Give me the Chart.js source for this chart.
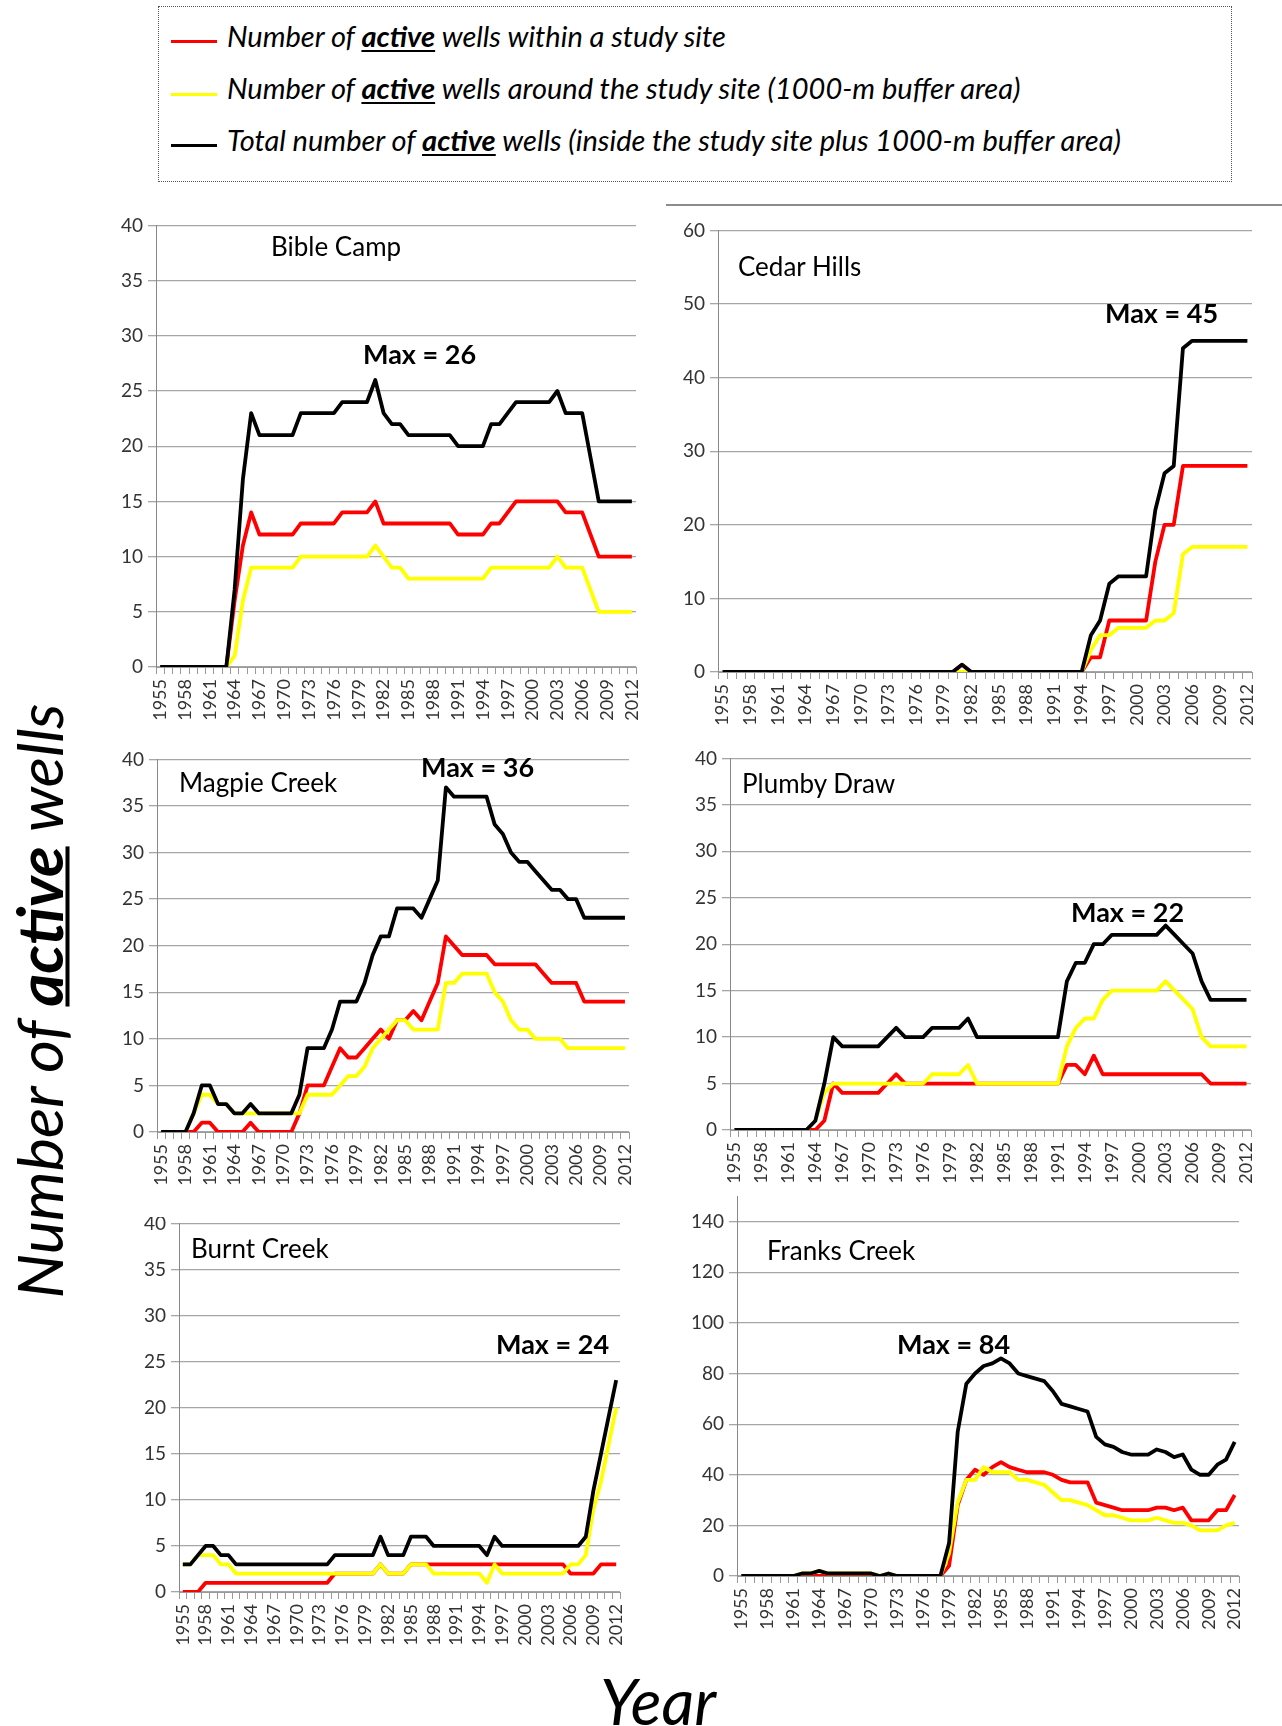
<!DOCTYPE html>
<html>
<head>
<meta charset="utf-8">
<script src="https://cdn.jsdelivr.net/npm/chart.js@4.4.1/dist/chart.umd.min.js"></script>
<style>
body { margin:0; width:1282px; height:1726px; position:relative; background:#fff; overflow:hidden; font-family:Lato, sans-serif; color:#000; }
.abs { position:absolute; white-space:nowrap; }
.lgtxt { font-style:italic; font-size:29px; line-height:34px; }
.lgtxt u, .ytitle u { text-decoration-thickness:2px; text-underline-offset:3px; }
.ytitle u { text-decoration-thickness:4px; }
.sw { position:absolute; width:46px; height:3px; }
.ttl { font-size:26px; line-height:30px; }
.mx { font-size:27px; line-height:30px; font-weight:bold; }
</style>
</head>
<body>

<div class="abs" style="left:158px;top:6px;width:1074px;height:176px;border:1px dotted #555;box-sizing:border-box;"></div>
<div class="sw" style="left:171px;top:40px;background:#ff0000;"></div>
<div class="abs lgtxt" style="left:227px;top:19px;">Number of <b><u>active</u></b> wells within a study site</div>
<div class="sw" style="left:171px;top:93px;background:#ffff00;"></div>
<div class="abs lgtxt" style="left:227px;top:71px;">Number of <b><u>active</u></b> wells around the study site (1000-m buffer area)</div>
<div class="sw" style="left:171px;top:144px;background:#000000;"></div>
<div class="abs lgtxt" style="left:227px;top:123px;">Total number of <b><u>active</u></b> wells (inside the study site plus 1000-m buffer area)</div>

<div class="abs" style="left:666px;top:204px;width:616px;height:2px;background:#8c8c8c;"></div>

<div class="abs ytitle" style="left:38px;top:1001px;font-size:63px;font-style:italic;transform:translate(-50%,-50%) rotate(-90deg);">Number of <b><u>active</u></b> wells</div>
<div class="abs" style="left:658px;top:1700px;font-size:64px;font-style:italic;transform:translate(-50%,-50%);">Year</div>

<div id="charts"></div>

<div class="abs ttl" style="left:271px;top:231px;">Bible Camp</div>
<div class="abs mx" style="left:363px;top:339px;">Max = 26</div>
<div class="abs ttl" style="left:738px;top:251px;">Cedar Hills</div>
<div class="abs mx" style="left:1105px;top:298px;">Max = 45</div>
<div class="abs ttl" style="left:179px;top:767px;">Magpie Creek</div>
<div class="abs mx" style="left:421px;top:752px;">Max = 36</div>
<div class="abs ttl" style="left:742px;top:768px;">Plumby Draw</div>
<div class="abs mx" style="left:1071px;top:897px;">Max = 22</div>
<div class="abs ttl" style="left:191px;top:1233px;">Burnt Creek</div>
<div class="abs mx" style="left:496px;top:1329px;">Max = 24</div>
<div class="abs ttl" style="left:767px;top:1235px;">Franks Creek</div>
<div class="abs mx" style="left:897px;top:1329px;">Max = 84</div>

<script>
var years = [1955,1956,1957,1958,1959,1960,1961,1962,1963,1964,1965,1966,1967,1968,1969,1970,
  1971,1972,1973,1974,1975,1976,1977,1978,1979,1980,1981,1982,1983,1984,1985,1986,1987,1988,
  1989,1990,1991,1992,1993,1994,1995,1996,1997,1998,1999,2000,2001,2002,2003,2004,2005,2006,
  2007,2008,2009,2010,2011,2012];

// Bible Camp
var bibleBlack  = [0,0,0,0,0,0,0,0,0,7,17,23,21,21,21,21,21,23,23,23,23,23,24,24,24,24,26,23,22,22,21,21,21,21,21,21,20,20,20,20,22,22,23,24,24,24,24,24,25,23,23,23,19,15,15,15,15,15];
var bibleYellow = [0,0,0,0,0,0,0,0,0,1,6,9,9,9,9,9,9,10,10,10,10,10,10,10,10,10,11,10,9,9,8,8,8,8,8,8,8,8,8,8,9,9,9,9,9,9,9,9,10,9,9,9,7,5,5,5,5,5];
var bibleRed    = [0,0,0,0,0,0,0,0,0,6,11,14,12,12,12,12,12,13,13,13,13,13,14,14,14,14,15,13,13,13,13,13,13,13,13,13,12,12,12,12,13,13,14,15,15,15,15,15,15,14,14,14,12,10,10,10,10,10];

// Cedar Hills
var cedarBlack  = [0,0,0,0,0,0,0,0,0,0,0,0,0,0,0,0,0,0,0,0,0,0,0,0,0,0,1,0,0,0,0,0,0,0,0,0,0,0,0,0,5,7,12,13,13,13,13,22,27,28,44,45,45,45,45,45,45,45];
var cedarYellow = [0,0,0,0,0,0,0,0,0,0,0,0,0,0,0,0,0,0,0,0,0,0,0,0,0,0,0,0,0,0,0,0,0,0,0,0,0,0,0,0,3,5,5,6,6,6,6,7,7,8,16,17,17,17,17,17,17,17];
var cedarRed    = [0,0,0,0,0,0,0,0,0,0,0,0,0,0,0,0,0,0,0,0,0,0,0,0,0,0,1,0,0,0,0,0,0,0,0,0,0,0,0,0,2,2,7,7,7,7,7,15,20,20,28,28,28,28,28,28,28,28];

// Magpie Creek
var magpieBlack  = [0,0,0,0,2,5,5,3,3,2,2,3,2,2,2,2,2,4,9,9,9,11,14,14,14,16,19,21,21,24,24,24,23,25,27,37,36,36,36,36,36,33,32,30,29,29,28,27,26,26,25,25,23,23,23,23,23,23];
var magpieYellow = [0,0,0,0,2,4,4,3,3,2,2,2,2,2,2,2,2,2,4,4,4,4,5,6,6,7,9,10,11,12,12,11,11,11,11,16,16,17,17,17,17,15,14,12,11,11,10,10,10,10,9,9,9,9,9,9,9,9];
var magpieRed    = [0,0,0,0,0,1,1,0,0,0,0,1,0,0,0,0,0,2,5,5,5,7,9,8,8,9,10,11,10,12,12,13,12,14,16,21,20,19,19,19,19,18,18,18,18,18,18,17,16,16,16,16,14,14,14,14,14,14];

// Plumby Draw
var plumbyBlack  = [0,0,0,0,0,0,0,0,0,1,5,10,9,9,9,9,9,10,11,10,10,10,11,11,11,11,12,10,10,10,10,10,10,10,10,10,10,16,18,18,20,20,21,21,21,21,21,21,22,21,20,19,16,14,14,14,14,14];
var plumbyYellow = [0,0,0,0,0,0,0,0,0,1,4,5,5,5,5,5,5,5,5,5,5,5,6,6,6,6,7,5,5,5,5,5,5,5,5,5,5,9,11,12,12,14,15,15,15,15,15,15,16,15,14,13,10,9,9,9,9,9];
var plumbyRed    = [0,0,0,0,0,0,0,0,0,0,1,5,4,4,4,4,4,5,6,5,5,5,5,5,5,5,5,5,5,5,5,5,5,5,5,5,5,7,7,6,8,6,6,6,6,6,6,6,6,6,6,6,6,5,5,5,5,5];

// Burnt Creek
var burntBlack  = [3,3,4,5,5,4,4,3,3,3,3,3,3,3,3,3,3,3,3,3,4,4,4,4,4,4,6,4,4,4,6,6,6,5,5,5,5,5,5,5,4,6,5,5,5,5,5,5,5,5,5,5,5,6,11,15,19,23];
var burntYellow = [3,3,4,4,4,3,3,2,2,2,2,2,2,2,2,2,2,2,2,2,2,2,2,2,2,2,3,2,2,2,3,3,3,2,2,2,2,2,2,2,1,3,2,2,2,2,2,2,2,2,2,3,3,4,9,12,16,20];
var burntRed    = [0,0,0,1,1,1,1,1,1,1,1,1,1,1,1,1,1,1,1,1,2,2,2,2,2,2,3,2,2,2,3,3,3,3,3,3,3,3,3,3,3,3,3,3,3,3,3,3,3,3,3,2,2,2,2,3,3,3];

// Franks Creek
var franksBlack  = [0,0,0,0,0,0,0,1,1,2,1,1,1,1,1,1,0,1,0,0,0,0,0,0,13,57,76,80,83,84,86,84,80,79,78,77,73,68,67,66,65,55,52,51,49,48,48,48,50,49,47,48,42,40,40,44,46,53];
var franksYellow = [0,0,0,0,0,0,0,1,1,2,1,1,1,1,1,1,0,1,0,0,0,0,0,0,9,29,38,38,43,41,41,41,38,38,37,36,33,30,30,29,28,26,24,24,23,22,22,22,23,22,21,21,20,18,18,18,20,21];
var franksRed    = [0,0,0,0,0,0,0,0,0,0,0,0,0,0,0,0,0,0,0,0,0,0,0,0,4,28,38,42,40,43,45,43,42,41,41,41,40,38,37,37,37,29,28,27,26,26,26,26,27,27,26,27,22,22,22,26,26,32];

function renderChart(black, yellow, red, yMax, yStep, tickMax, L, T, R, B, clipTop) {
    var yW = 50, xH = 64, padT = 14, padR = 14;
    var cl = L - yW, ct = T - padT, cw = R + padR - cl, ch = B + xH - ct;
    var wt = clipTop || ct;
    var wrap = document.createElement('div');
    wrap.style.cssText = 'position:absolute;overflow:hidden;left:' + cl + 'px;top:' + wt + 'px;width:' + cw + 'px;height:' + (ch - (wt - ct)) + 'px;';
    var cv = document.createElement('canvas');
    cv.width = cw; cv.height = ch;
    cv.style.cssText = 'position:absolute;left:0;top:' + (ct - wt) + 'px;width:' + cw + 'px;height:' + ch + 'px;';
    wrap.appendChild(cv);
    document.getElementById('charts').appendChild(wrap);

    function ds(d, c) {
        return { data: d, borderColor: c, borderWidth: 3.8, pointRadius: 0, tension: 0, fill: false, borderJoinStyle: 'round' };
    }
    new Chart(cv.getContext('2d'), {
        type: 'line',
        data: {
            labels: years,
            datasets: [ds(black, '#000000'), ds(yellow, '#ffff00'), ds(red, '#ff0000')]
        },
        options: {
            responsive: false,
            animation: false,
            devicePixelRatio: 1,
            layout: { padding: { top: padT, right: padR, left: 0, bottom: 0 } },
            plugins: { legend: { display: false }, tooltip: { enabled: false } },
            scales: {
                x: {
                    offset: true,
                    grid: { display: true, drawOnChartArea: false, drawTicks: true, tickLength: 7, color: '#999999', offset: true },
                    border: { display: true, color: '#999999', width: 1 },
                    ticks: {
                        autoSkip: false, minRotation: 90, maxRotation: 90, padding: 5,
                        font: { family: 'Lato', size: 18 }, color: '#333333',
                        callback: function (v, i) { return i % 3 === 0 ? years[i] : ''; }
                    },
                    afterFit: function (s) { s.height = xH; s.paddingLeft = 0; s.paddingRight = 0; }
                },
                y: {
                    min: 0, max: yMax,
                    grid: { color: '#a6a6a6', lineWidth: 1.3, tickLength: 8 },
                    border: { display: true, color: '#888888', width: 1 },
                    ticks: { stepSize: yStep, padding: 5, font: { family: 'Lato', size: 19 }, color: '#333333' },
                    afterBuildTicks: function (s) { s.ticks = s.ticks.filter(function (t) { return t.value <= tickMax; }); },
                    afterFit: function (s) { s.width = yW; }
                }
            }
        }
    });
}

renderChart(bibleBlack, bibleYellow, bibleRed, 40, 5, 40, 156, 223, 636, 667);
renderChart(cedarBlack, cedarYellow, cedarRed, 60, 10, 60, 718, 228, 1252, 672);
renderChart(magpieBlack, magpieYellow, magpieRed, 40, 5, 40, 157, 757, 629, 1132, 752);
renderChart(plumbyBlack, plumbyYellow, plumbyRed, 40, 5, 40, 730, 756, 1251, 1130);
renderChart(burntBlack, burntYellow, burntRed, 40, 5, 40, 179, 1221, 620, 1592, 1217);
renderChart(franksBlack, franksYellow, franksRed, 150, 20, 140, 737, 1194, 1239, 1576);
</script>
</body>
</html>
